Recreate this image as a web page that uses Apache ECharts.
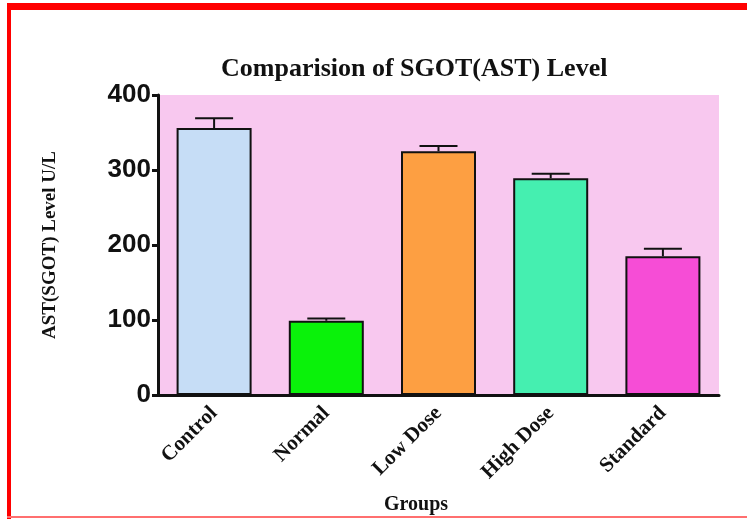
<!DOCTYPE html>
<html>
<head>
<meta charset="utf-8">
<script src="https://cdn.jsdelivr.net/npm/echarts@6/dist/echarts.min.js"></script>
<style>
  html, body { margin: 0; padding: 0; background: #ffffff; }
  #chart { width: 747px; height: 519px; }
</style>
</head>
<body>
<div id="chart"></div>
<script>
// Group names, mean AST values and upper error limits (U/L)
const categories = ['Control', 'Normal', 'Low Dose', 'High Dose', 'Standard'];
const meanValues = [356, 99, 325, 289, 185];
const upperValues = [369, 102, 332, 295, 195];
const barColors = ['#c6ddf6', '#0af20a', '#fd9f42', '#45efb0', '#f64dd6'];
const yTicks = [0, 100, 200, 300, 400];

const serif = '"Liberation Serif", "Times New Roman", serif';
const sans = '"Liberation Sans", Arial, sans-serif';

const chart = echarts.init(document.getElementById('chart'), null, { renderer: 'canvas' });

const option = {
  animation: false,
  backgroundColor: '#ffffff',
  title: {
    text: 'Comparision of SGOT(AST) Level',
    left: 216,
    top: 51,
    textStyle: { fontFamily: serif, fontWeight: 'bold', fontSize: 26, color: '#111' }
  },
  grid: {
    left: 158, right: 28, top: 95, bottom: 124,
    show: true, backgroundColor: '#f8c8ef', borderWidth: 0
  },
  xAxis: {
    type: 'category',
    data: categories,
    boundaryGap: true,
    axisLine: { lineStyle: { color: '#111', width: 3 } },
    axisTick: { alignWithLabel: true, length: 5, lineStyle: { color: '#111', width: 3 } },
    axisLabel: {
      rotate: 45, margin: 15, interval: 0,
      fontFamily: serif, fontWeight: 'bold', fontSize: 21, color: '#111'
    }
  },
  yAxis: {
    type: 'value',
    min: yTicks[0], max: yTicks[yTicks.length - 1], interval: 100,
    name: 'AST(SGOT) Level U/L',
    nameLocation: 'middle',
    nameGap: 98,
    nameTextStyle: { fontFamily: serif, fontWeight: 'bold', fontSize: 19, color: '#111' },
    splitLine: { show: false },
    axisLine: { show: true, lineStyle: { color: '#111', width: 3 } },
    axisTick: { show: true, length: 6, lineStyle: { color: '#111', width: 3 } },
    axisLabel: { margin: 7, fontFamily: sans, fontWeight: 'bold', fontSize: 26, color: '#111' }
  },
  graphic: [
    { type: 'rect', shape: { x: 7, y: 3, width: 740, height: 7 }, style: { fill: '#ff0000' }, z: 100 },
    { type: 'rect', shape: { x: 7, y: 3, width: 4, height: 516 }, style: { fill: '#ff0000' }, z: 100 },
    { type: 'rect', shape: { x: 7, y: 516, width: 740, height: 2 }, style: { fill: '#ff6f6f' }, z: 100 },
    {
      type: 'text', left: 384, top: 495, z: 100,
      style: { text: 'Groups', fontFamily: serif, fontWeight: 'bold', fontSize: 20, fill: '#111' }
    }
  ],
  series: [
    {
      type: 'bar',
      barWidth: 75,
      data: meanValues.map((v, i) => ({
        value: v,
        itemStyle: { color: barColors[i], borderColor: '#111', borderWidth: 2 }
      })),
      z: 2
    },
    {
      type: 'custom',
      z: 3,
      data: categories.map((c, i) => [i, meanValues[i], upperValues[i]]),
      renderItem: function (params, api) {
        const x = api.value(0);
        const base = api.coord([x, api.value(1)]);
        const top = api.coord([x, api.value(2)]);
        const half = 19;
        const style = { stroke: '#111', lineWidth: 2 };
        return {
          type: 'group',
          children: [
            { type: 'line', shape: { x1: base[0], y1: base[1], x2: top[0], y2: top[1] }, style: style },
            { type: 'line', shape: { x1: top[0] - half, y1: top[1], x2: top[0] + half, y2: top[1] }, style: style }
          ]
        };
      }
    }
  ]
};

chart.setOption(option);
</script>
</body>
</html>
